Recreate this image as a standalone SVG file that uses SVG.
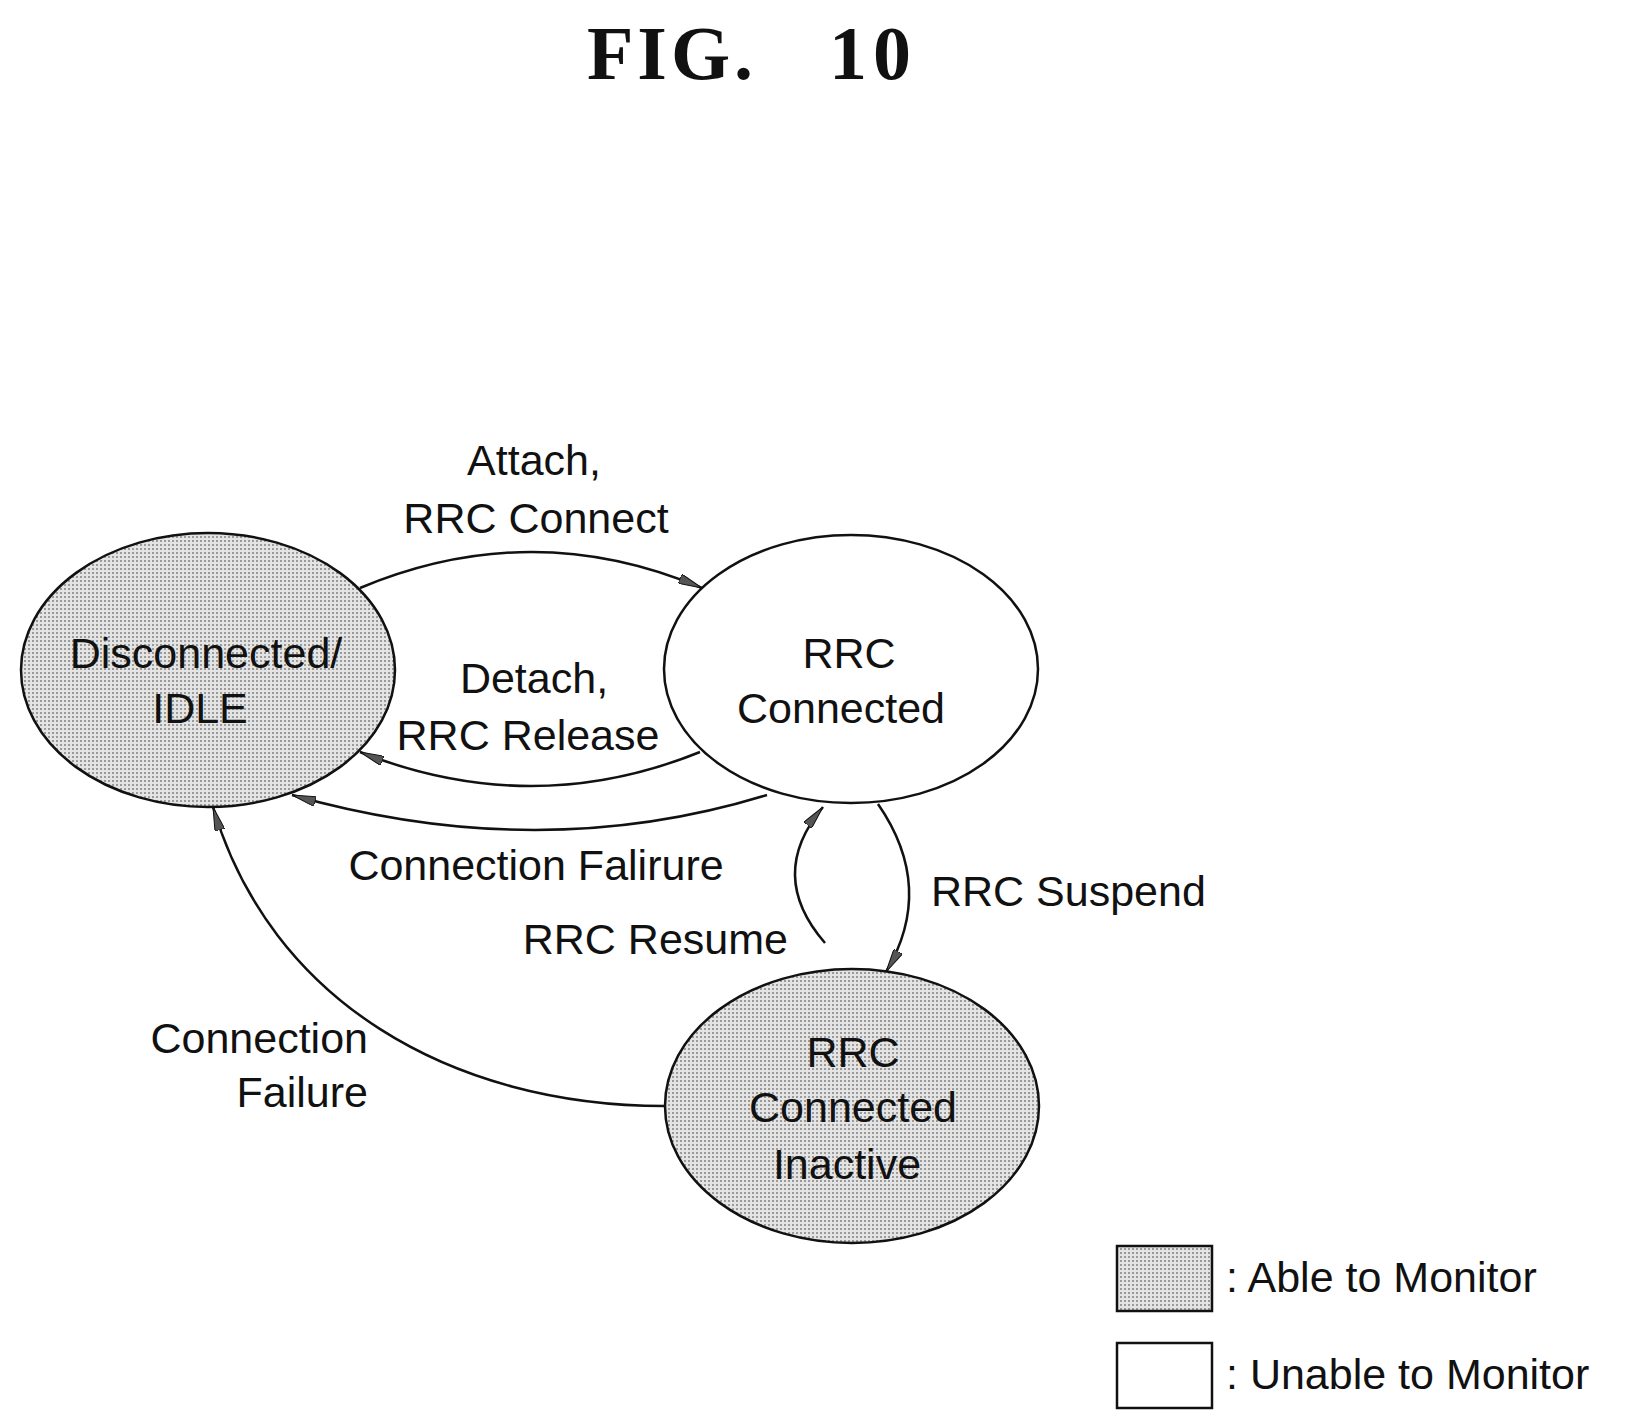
<svg xmlns="http://www.w3.org/2000/svg" width="1639" height="1424" viewBox="0 0 1639 1424">
<style>
.t{font-family:"Liberation Sans",Arial,sans-serif;font-size:43px;fill:#111}
.n{stroke:#111;stroke-width:2.5}
.c{fill:none;stroke:#111;stroke-width:2.5}
.h{font-family:"Liberation Serif",serif;font-weight:bold;font-size:76px;fill:#111}
</style>
<defs>
<pattern id="dots" width="4" height="4" patternUnits="userSpaceOnUse">
<rect width="4" height="4" fill="#e4e4e4"/>
<rect x="0" y="0" width="2" height="2" fill="#9a9a9a"/>
</pattern>
<marker id="ah" viewBox="0 0 24 10" refX="24" refY="5" markerWidth="24" markerHeight="10" markerUnits="userSpaceOnUse" orient="auto">
<path d="M0,0 L24,5 L0,10 Z" fill="#555" stroke="#111" stroke-width="1"/>
</marker>
</defs>
<rect width="1639" height="1424" fill="#fff"/>
<text class="h" x="672" y="79" text-anchor="middle" letter-spacing="4">FIG.</text>
<text class="h" x="873" y="79" text-anchor="middle" letter-spacing="6">10</text>
<g id="n-idle">
<ellipse class="n" cx="208" cy="670" rx="187" ry="137" fill="url(#dots)"/>
<text class="t" x="206" y="668" text-anchor="middle">Disconnected/</text>
<text class="t" x="200" y="723" text-anchor="middle">IDLE</text>
</g>
<g id="n-connected">
<ellipse class="n" cx="851" cy="669" rx="187" ry="134" fill="#fff"/>
<text class="t" x="849" y="668" text-anchor="middle">RRC</text>
<text class="t" x="841" y="723" text-anchor="middle">Connected</text>
</g>
<g id="n-inactive">
<ellipse class="n" cx="852" cy="1106" rx="187" ry="137" fill="url(#dots)"/>
<text class="t" x="853" y="1067" text-anchor="middle">RRC</text>
<text class="t" x="853" y="1122" text-anchor="middle">Connected</text>
<text class="t" x="847" y="1179" text-anchor="middle">Inactive</text>
</g>
<g id="connectors">
<path class="c" d="M360,588 Q532,516 702,588" marker-end="url(#ah)"/>
<path class="c" d="M700,752 Q532,820 360,752" marker-end="url(#ah)"/>
<path class="c" d="M767,795 Q540,865 292,795" marker-end="url(#ah)"/>
<path class="c" d="M825,943 Q766,875 823,807" marker-end="url(#ah)"/>
<path class="c" d="M878,804 Q936,888 886,972" marker-end="url(#ah)"/>
<path class="c" d="M665,1106 C450,1106 270,1000 213,807" marker-end="url(#ah)"/>
</g>
<g id="labels">
<text class="t" x="534" y="475" text-anchor="middle">Attach,</text>
<text class="t" x="536" y="533" text-anchor="middle">RRC Connect</text>
<text class="t" x="534" y="693" text-anchor="middle">Detach,</text>
<text class="t" x="528" y="750" text-anchor="middle">RRC Release</text>
<text class="t" x="536" y="880" text-anchor="middle">Connection Falirure</text>
<text class="t" x="931" y="906">RRC Suspend</text>
<text class="t" x="788" y="954" text-anchor="end">RRC Resume</text>
<text class="t" x="368" y="1053" text-anchor="end">Connection</text>
<text class="t" x="368" y="1107" text-anchor="end">Failure</text>
</g>
<g id="legend">
<rect class="n" x="1117" y="1246" width="95" height="65" fill="url(#dots)"/>
<rect class="n" x="1117" y="1343" width="95" height="65" fill="#fff"/>
<text class="t" x="1226" y="1292">: Able to Monitor</text>
<text class="t" x="1226" y="1389">: Unable to Monitor</text>
</g>
</svg>
